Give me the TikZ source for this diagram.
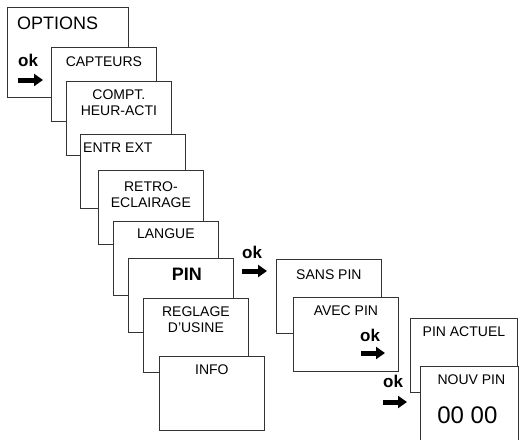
\documentclass[tikz,border=0pt]{standalone}
\usepackage{fontspec}
\setmainfont{Liberation Sans}
\usetikzlibrary{positioning,arrows.meta}

\begin{document}
\begin{tikzpicture}[x=1pt, y=-1pt, font=\fontsize{14}{16}\selectfont]
%% menu boxes are stacked: each later box is drawn over the one before
%% box labels sit below the top edge of their box
\tikzstyle{menubox}=[draw=black!80, line width=0.8pt, fill=white, anchor=north west, minimum width=105pt, minimum height=74pt, inner sep=0pt]
\tikzstyle{optionbox}=[menubox, minimum width=121pt, minimum height=90pt]
\tikzstyle{lbl}=[inner sep=0pt, align=center]
\tikzstyle{okmark}=[inner sep=0pt, anchor=north west, font=\fontsize{17}{17}\selectfont\bfseries]
\tikzstyle{okarrow}=[line width=5pt, -{Triangle[length=9pt,width=12pt]}]
\useasboundingbox (0,0) rectangle (521,439);
\clip (0,0) rectangle (521,439);
%% main menu %%
\node[optionbox] at (7,7) (Options) {};
\node[lbl, font=\fontsize{18}{18}\selectfont, below right=10pt and 10pt of Options.north west] (OptionsLbl) {OPTIONS};
\node[okmark] at (18,54) (okOptions) {ok};
\coordinate (arrOptionsA) at (18,80);
\coordinate (arrOptionsB) at (43,80);
\draw[okarrow] (arrOptionsA) -- (arrOptionsB);
\node[menubox] at (51,47) (Capteurs) {};
\node[lbl, below=10pt of Capteurs.north] (CapteursLbl) {CAPTEURS};
\node[menubox] at (66,81) (Compt) {};
\node[lbl, below=9pt of Compt.north] (ComptLbl) {COMPT.\\HEUR-ACTI};
\node[menubox] at (80,134) (EntrExt) {};
\node[lbl, below right=9pt and 3pt of EntrExt.north west] (EntrExtLbl) {ENTR EXT};
\node[menubox] at (98,170) (Retro) {};
\node[lbl, below=12pt of Retro.north] (RetroLbl) {RETRO-\\ECLAIRAGE};
\node[menubox] at (113,221) (Langue) {};
\node[lbl, below=8pt of Langue.north] (LangueLbl) {LANGUE};
\node[menubox] at (128,258) (Pin) {};
\node[lbl, font=\fontsize{18}{18}\selectfont\bfseries, below=10pt of Pin.north, xshift=6pt] (PinLbl) {PIN};
\node[menubox] at (143,298) (Reglage) {};
\node[lbl, below=9pt of Reglage.north] (ReglageLbl) {REGLAGE\\D’USINE};
\node[menubox] at (159,356) (Info) {};
\node[lbl, below=9pt of Info.north] (InfoLbl) {INFO};
%% PIN submenu %%
\node[okmark] at (242,246) (okPin) {ok};
\coordinate (arrPinA) at (242,271);
\coordinate (arrPinB) at (267,271);
\draw[okarrow] (arrPinA) -- (arrPinB);
\node[menubox] at (276,259) (SansPin) {};
\node[lbl, below=11pt of SansPin.north] (SansPinLbl) {SANS PIN};
\node[menubox] at (293,297) (AvecPin) {};
\node[lbl, below=9pt of AvecPin.north] (AvecPinLbl) {AVEC PIN};
\node[okmark] at (360,329) (okAvec) {ok};
\coordinate (arrAvecA) at (361,353);
\coordinate (arrAvecB) at (385,353);
\draw[okarrow] (arrAvecA) -- (arrAvecB);
%% new PIN entry %%
\node[menubox, minimum width=107pt] at (410,318) (PinActuel) {};
\node[lbl, below=9pt of PinActuel.north] (PinActuelLbl) {PIN ACTUEL};
\node[okmark] at (383,375) (okNouv) {ok};
\coordinate (arrNouvA) at (383,402);
\coordinate (arrNouvB) at (407,402);
\draw[okarrow] (arrNouvA) -- (arrNouvB);
\node[menubox, minimum width=98pt, minimum height=90pt] at (420,366) (NouvPin) {};
\node[lbl, below=9pt of NouvPin.north, xshift=2pt] (NouvPinLbl) {NOUV PIN};
\node[lbl, font=\fontsize{24}{24}\selectfont, below=41pt of NouvPin.north, xshift=-2pt] (NouvPinCode) {00 00};
\end{tikzpicture}
\end{document}
